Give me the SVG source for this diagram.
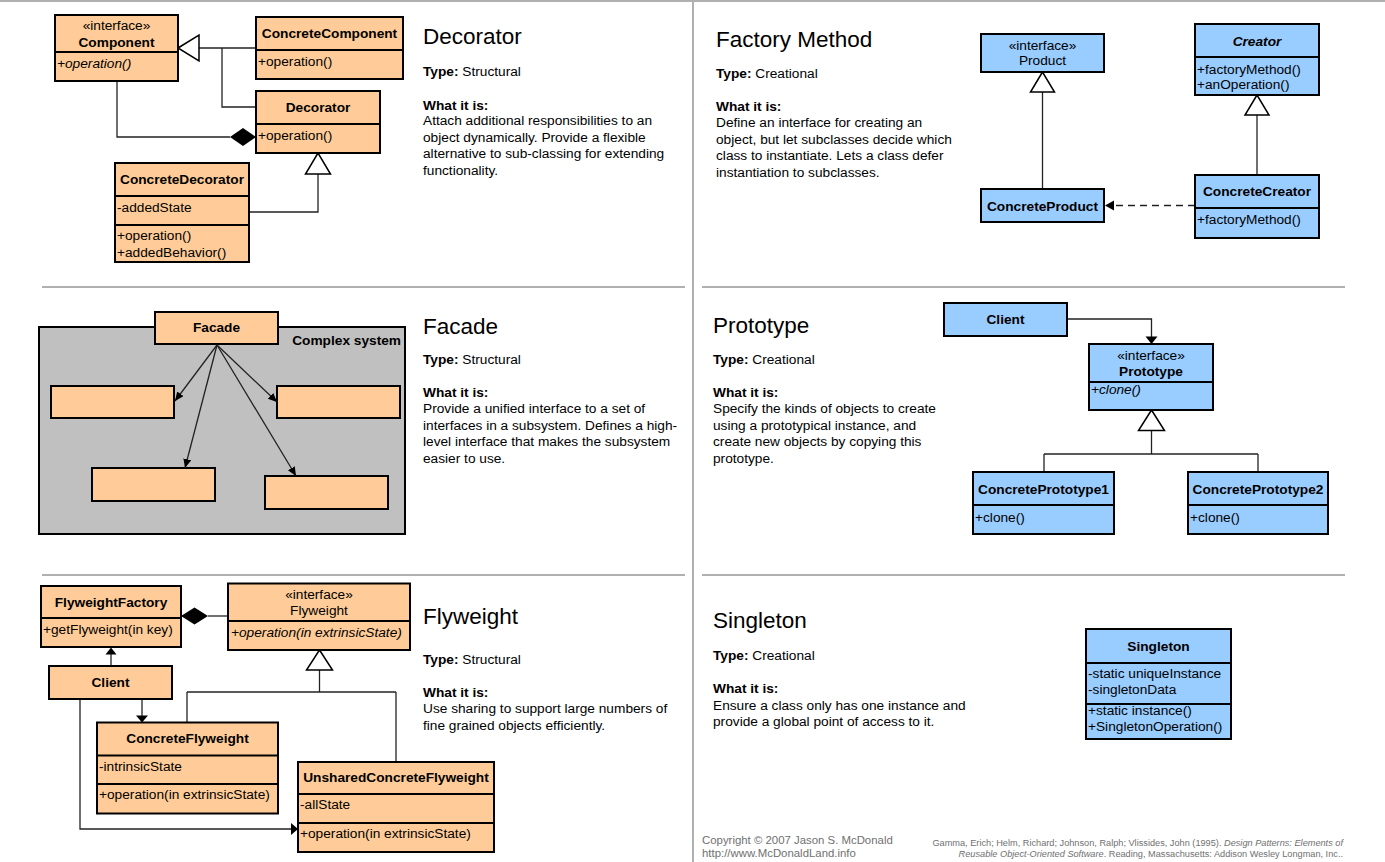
<svg xmlns="http://www.w3.org/2000/svg" width="1385" height="862" viewBox="0 0 1385 862">
<style>
text{font-family:"Liberation Sans",Arial,sans-serif;font-size:13.7px;fill:#000}
.b{font-weight:bold}
.i{font-style:italic}
.c{text-anchor:middle}
.e{text-anchor:end}
.title{font-size:22.5px}
.o{fill:#FFCC99;stroke:#000;stroke-width:2}
.bl{fill:#99CCFF;stroke:#000;stroke-width:2}
.dv{stroke:#000;stroke-width:2}
.conn{stroke:#222;stroke-width:1.3;fill:none}
.tri{fill:#fff;stroke:#000;stroke-width:1.5}
.fill{fill:#000;stroke:none}
.sep{stroke:#b0b0b0;stroke-width:2}
.foot{fill:#707070}
</style>
<defs>
<marker id="ah" markerUnits="userSpaceOnUse" markerWidth="10" markerHeight="10" refX="9" refY="4" orient="auto">
<path d="M0,0 L9,4 L0,8 z" fill="#000"/>
</marker>
</defs>
<rect x="0" y="0" width="1385" height="862" fill="#fff"/>
<g id="separators">
<line class="sep" x1="0" y1="1" x2="1385" y2="1"/>
<line class="sep" x1="693" y1="0" x2="693" y2="862"/>
<line class="sep" x1="42" y1="287" x2="685" y2="287"/>
<line class="sep" x1="702" y1="287" x2="1345" y2="287"/>
<line class="sep" x1="42" y1="575" x2="685" y2="575"/>
<line class="sep" x1="702" y1="575" x2="1345" y2="575"/>
</g>

<!-- ========== Decorator ========== -->
<g id="decorator-text">
<text class="title" x="423" y="44">Decorator</text>
<text x="423" y="76"><tspan class="b">Type:</tspan> Structural</text>
<text class="b" x="423" y="109.5">What it is:</text>
<text x="423" y="125">Attach additional responsibilities to an</text>
<text x="423" y="141.5">object dynamically. Provide a flexible</text>
<text x="423" y="158">alternative to sub-classing for extending</text>
<text x="423" y="174.5">functionality.</text>
</g>
<g id="dec-connectors">
<line class="conn" x1="256" y1="48" x2="199" y2="48"/>
<polyline class="conn" points="222,48 222,107 256,107"/>
<polygon class="tri" points="178,48 199,35 199,61"/>
<polyline class="conn" points="117,81 117,137 230,137"/>
<polygon class="fill" points="256,137 243,128 230,137 243,146"/>
<polyline class="conn" points="318,174 318,212 249,212"/>
<polygon class="tri" points="318,153 305.5,174 330.5,174"/>
</g>
<g id="Component">
<rect class="o" x="55" y="15" width="123" height="66"/>
<line class="dv" x1="55" y1="52" x2="178" y2="52"/>
<text class="c" x="116.5" y="30">«interface»</text>
<text class="c b" x="116.5" y="46.5">Component</text>
<text class="i" x="57" y="68">+operation()</text>
</g>
<g id="ConcreteComponent">
<rect class="o" x="256" y="17" width="147" height="62"/>
<line class="dv" x1="256" y1="50" x2="403" y2="50"/>
<text class="c b" x="329.5" y="38">ConcreteComponent</text>
<text x="258" y="66">+operation()</text>
</g>
<g id="Decorator">
<rect class="o" x="256" y="91" width="124" height="62"/>
<line class="dv" x1="256" y1="124" x2="380" y2="124"/>
<text class="c b" x="318" y="112">Decorator</text>
<text x="258" y="140">+operation()</text>
</g>
<g id="ConcreteDecorator">
<rect class="o" x="115" y="163" width="134" height="99"/>
<line class="dv" x1="115" y1="196" x2="249" y2="196"/>
<line class="dv" x1="115" y1="225" x2="249" y2="225"/>
<text class="c b" x="182" y="184">ConcreteDecorator</text>
<text x="117" y="212">-addedState</text>
<text x="117" y="240">+operation()</text>
<text x="117" y="256.5">+addedBehavior()</text>
</g>

<!-- ========== Factory Method ========== -->
<g id="factory-text">
<text class="title" x="716" y="47">Factory Method</text>
<text x="716" y="78"><tspan class="b">Type:</tspan> Creational</text>
<text class="b" x="716" y="111">What it is:</text>
<text x="716" y="127">Define an interface for creating an</text>
<text x="716" y="143.5">object, but let subclasses decide which</text>
<text x="716" y="160">class to instantiate. Lets a class defer</text>
<text x="716" y="176.5">instantiation to subclasses.</text>
</g>
<g id="fm-connectors">
<line class="conn" x1="1042.5" y1="92" x2="1042.5" y2="189"/>
<polygon class="tri" points="1042.5,72 1030.5,92 1054.5,92"/>
<line class="conn" x1="1257" y1="115" x2="1257" y2="175"/>
<polygon class="tri" points="1257,95 1245,115 1269,115"/>
<line class="conn" x1="1195" y1="205.5" x2="1113" y2="205.5" stroke-dasharray="7,5"/>
<polygon class="fill" points="1105,205.5 1114,200.5 1114,210.5"/>
</g>
<g id="Product">
<rect class="bl" x="981" y="34" width="123" height="38"/>
<text class="c" x="1042.5" y="50">«interface»</text>
<text class="c" x="1042.5" y="65">Product</text>
</g>
<g id="ConcreteProduct">
<rect class="bl" x="981" y="189" width="123" height="33"/>
<text class="c b" x="1042.5" y="210.5">ConcreteProduct</text>
</g>
<g id="Creator">
<rect class="bl" x="1195" y="24" width="124" height="71"/>
<line class="dv" x1="1195" y1="57" x2="1319" y2="57"/>
<text class="c b i" x="1257" y="45.5">Creator</text>
<text x="1197" y="73.5">+factoryMethod()</text>
<text x="1197" y="88.5">+anOperation()</text>
</g>
<g id="ConcreteCreator">
<rect class="bl" x="1195" y="175" width="124" height="63"/>
<line class="dv" x1="1195" y1="208" x2="1319" y2="208"/>
<text class="c b" x="1257" y="196">ConcreteCreator</text>
<text x="1197" y="224">+factoryMethod()</text>
</g>

<!-- ========== Facade ========== -->
<g id="facade-text">
<text class="title" x="423" y="334">Facade</text>
<text x="423" y="364"><tspan class="b">Type:</tspan> Structural</text>
<text class="b" x="423" y="396.5">What it is:</text>
<text x="423" y="413">Provide a unified interface to a set of</text>
<text x="423" y="429.5">interfaces in a subsystem. Defines a high-</text>
<text x="423" y="446">level interface that makes the subsystem</text>
<text x="423" y="462.5">easier to use.</text>
</g>
<g id="ComplexSystem">
<rect x="39" y="327" width="366" height="207" fill="#C0C0C0" stroke="#000" stroke-width="2"/>
<text class="b e" x="401" y="345">Complex system</text>
</g>
<g id="Sub1"><rect class="o" x="51" y="386" width="123" height="32"/></g>
<g id="Sub2"><rect class="o" x="277" y="386" width="123" height="32"/></g>
<g id="Sub3"><rect class="o" x="92" y="468" width="123" height="33"/></g>
<g id="Sub4"><rect class="o" x="265" y="476" width="123" height="33"/></g>
<g id="Facade">
<rect class="o" x="155" y="312" width="123" height="32"/>
<text class="c b" x="216.5" y="332">Facade</text>
</g>
<g id="facade-connectors">
<line class="conn" x1="217" y1="345" x2="175" y2="401" marker-end="url(#ah)"/>
<line class="conn" x1="217" y1="345" x2="277" y2="402" marker-end="url(#ah)"/>
<line class="conn" x1="217" y1="345" x2="185" y2="468" marker-end="url(#ah)"/>
<line class="conn" x1="217" y1="345" x2="296" y2="476" marker-end="url(#ah)"/>
</g>

<!-- ========== Prototype ========== -->
<g id="prototype-text">
<text class="title" x="713" y="333">Prototype</text>
<text x="713" y="364"><tspan class="b">Type:</tspan> Creational</text>
<text class="b" x="713" y="396.5">What it is:</text>
<text x="713" y="413">Specify the kinds of objects to create</text>
<text x="713" y="429.5">using a prototypical instance, and</text>
<text x="713" y="446">create new objects by copying this</text>
<text x="713" y="462.5">prototype.</text>
</g>
<g id="proto-connectors">
<polyline class="conn" points="1067,319 1151.5,319 1151.5,337"/>
<polygon class="fill" points="1151.5,344 1145.5,336.5 1157.5,336.5"/>
<line class="conn" x1="1151.5" y1="430.5" x2="1151.5" y2="454"/>
<polygon class="tri" points="1151.5,410 1138.5,430.5 1164.5,430.5"/>
<line class="conn" x1="1044" y1="454" x2="1258" y2="454"/>
<line class="conn" x1="1044" y1="454" x2="1044" y2="472"/>
<line class="conn" x1="1258" y1="454" x2="1258" y2="472"/>
</g>
<g id="Client-proto">
<rect class="bl" x="944" y="303" width="123" height="33"/>
<text class="c b" x="1005.5" y="324">Client</text>
</g>
<g id="Prototype">
<rect class="bl" x="1089" y="344" width="124" height="66"/>
<line class="dv" x1="1089" y1="382" x2="1213" y2="382"/>
<text class="c" x="1151" y="360">«interface»</text>
<text class="c b" x="1151" y="376">Prototype</text>
<text class="i" x="1091" y="394">+clone()</text>
</g>
<g id="ConcretePrototype1">
<rect class="bl" x="973" y="472" width="141" height="62"/>
<line class="dv" x1="973" y1="505" x2="1114" y2="505"/>
<text class="c b" x="1043.5" y="494">ConcretePrototype1</text>
<text x="975" y="522">+clone()</text>
</g>
<g id="ConcretePrototype2">
<rect class="bl" x="1188" y="472" width="140" height="62"/>
<line class="dv" x1="1188" y1="505" x2="1328" y2="505"/>
<text class="c b" x="1258" y="494">ConcretePrototype2</text>
<text x="1190" y="522">+clone()</text>
</g>

<!-- ========== Flyweight ========== -->
<g id="flyweight-text">
<text class="title" x="423" y="624">Flyweight</text>
<text x="423" y="664"><tspan class="b">Type:</tspan> Structural</text>
<text class="b" x="423" y="696.5">What it is:</text>
<text x="423" y="713">Use sharing to support large numbers of</text>
<text x="423" y="729.5">fine grained objects efficiently.</text>
</g>
<g id="fw-connectors">
<line class="conn" x1="208" y1="616" x2="228" y2="616"/>
<polygon class="fill" points="181,616 194.5,607.5 208,616 194.5,624.5"/>
<line class="conn" x1="111" y1="666" x2="111" y2="654"/>
<polygon class="fill" points="111,647.5 105.5,654.5 116.5,654.5"/>
<line class="conn" x1="142" y1="699" x2="142" y2="716"/>
<polygon class="fill" points="142,722.5 136,715.5 148,715.5"/>
<line class="conn" x1="319.5" y1="670" x2="319.5" y2="692"/>
<polygon class="tri" points="319.5,650 306.5,670 332.5,670"/>
<line class="conn" x1="187" y1="692" x2="396" y2="692"/>
<line class="conn" x1="187" y1="692" x2="187" y2="722.5"/>
<line class="conn" x1="396" y1="692" x2="396" y2="762"/>
<polyline class="conn" points="80,699 80,829 291,829"/>
<polygon class="fill" points="298,829 291,823 291,835"/>
</g>
<g id="FlyweightFactory">
<rect class="o" x="41" y="586" width="140" height="61"/>
<line class="dv" x1="41" y1="618" x2="181" y2="618"/>
<text class="c b" x="111" y="606.5">FlyweightFactory</text>
<text x="43" y="634">+getFlyweight(in key)</text>
</g>
<g id="Flyweight">
<rect class="o" x="228" y="583.5" width="182" height="66.5"/>
<line class="dv" x1="228" y1="621" x2="410" y2="621"/>
<text class="c" x="319" y="599">«interface»</text>
<text class="c" x="319" y="615">Flyweight</text>
<text class="i" x="231" y="636.5">+operation(in extrinsicState)</text>
</g>
<g id="Client-fw">
<rect class="o" x="49" y="666" width="123" height="33"/>
<text class="c b" x="110.5" y="687">Client</text>
</g>
<g id="ConcreteFlyweight">
<rect class="o" x="97" y="722.5" width="181" height="91"/>
<line class="dv" x1="97" y1="755.5" x2="278" y2="755.5"/>
<line class="dv" x1="97" y1="784" x2="278" y2="784"/>
<text class="c b" x="187.5" y="743">ConcreteFlyweight</text>
<text x="99" y="770.5">-intrinsicState</text>
<text x="99" y="799">+operation(in extrinsicState)</text>
</g>
<g id="UnsharedConcreteFlyweight">
<rect class="o" x="298" y="762" width="196" height="90"/>
<line class="dv" x1="298" y1="794" x2="494" y2="794"/>
<line class="dv" x1="298" y1="823" x2="494" y2="823"/>
<text class="c b" x="396" y="782">UnsharedConcreteFlyweight</text>
<text x="300" y="809">-allState</text>
<text x="300" y="838">+operation(in extrinsicState)</text>
</g>

<!-- ========== Singleton ========== -->
<g id="singleton-text">
<text class="title" x="713" y="628">Singleton</text>
<text x="713" y="660"><tspan class="b">Type:</tspan> Creational</text>
<text class="b" x="713" y="693">What it is:</text>
<text x="713" y="709.5">Ensure a class only has one instance and</text>
<text x="713" y="726">provide a global point of access to it.</text>
</g>
<g id="Singleton">
<rect class="bl" x="1086" y="629" width="145" height="110"/>
<line class="dv" x1="1086" y1="663" x2="1231" y2="663"/>
<line class="dv" x1="1086" y1="704" x2="1231" y2="704"/>
<text class="c b" x="1158.5" y="651">Singleton</text>
<text x="1088" y="678">-static uniqueInstance</text>
<text x="1088" y="694">-singletonData</text>
<text x="1088" y="715">+static instance()</text>
<text x="1088" y="731">+SingletonOperation()</text>
</g>

<!-- ========== Footer ========== -->
<g id="footer">
<text class="foot" x="702" y="844" style="font-size:11.4px">Copyright © 2007 Jason S. McDonald</text>
<text class="foot" x="702" y="857" style="font-size:11.4px">http://www.McDonaldLand.info</text>
<text class="foot e" x="1343" y="845.5" style="font-size:9.2px">Gamma, Erich; Helm, Richard; Johnson, Ralph; Vlissides, John (1995). <tspan class="i">Design Patterns: Elements of</tspan></text>
<text class="foot e" x="1343" y="856.5" style="font-size:9.2px"><tspan class="i">Reusable Object-Oriented Software</tspan>. Reading, Massachusetts: Addison Wesley Longman, Inc..</text>
</g>
</svg>
